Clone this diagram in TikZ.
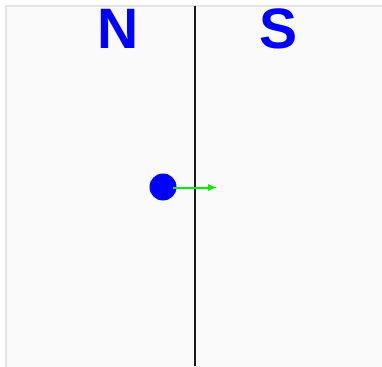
\documentclass[tikz,border=0pt]{standalone}
\usepackage{fontspec}
\setmainfont{Liberation Sans}
\usepackage{xcolor}
\usetikzlibrary{calc, positioning}

\definecolor{panelfill}{HTML}{FAFAFA}
\definecolor{panelline}{HTML}{E4E4E4}
\definecolor{fieldgreen}{HTML}{00F000}

\tikzset{
    pole/.style={anchor=base, inner sep=0pt, text=blue, font=\fontsize{57}{57}\selectfont\bfseries},
    charge/.style={circle, fill=blue, inner sep=0pt, minimum size=27pt},
}

\begin{document}
\begin{tikzpicture}[>=latex, x=1pt, y=-1pt]
    \useasboundingbox (0,0) rectangle (382,366);
    % Nền
    \fill[white] (0,0) rectangle (382,366);
    \draw[panelline, fill=panelfill, line width=1.5pt] (6,6) rectangle (390,374);

    % Đường phân cách
    \coordinate (top) at (195,6);
    \coordinate (bottom) at (195,366);
    \draw[line width=1.6pt, black!90] (top) -- (bottom);

    % Hai cực
    \node[pole] (north) at (118,48.3) {N};
    \node[pole] (south) at (278.5,48.3) {S};

    % Hạt và vectơ
    \node[charge] (dot) at (163,187) {};
    \coordinate (tail) at (173,187.5);
    \coordinate (head) at (217,187.5);
    \draw[->, draw=fieldgreen, line width=2pt] (tail) -- (head);
\end{tikzpicture}
\end{document}
